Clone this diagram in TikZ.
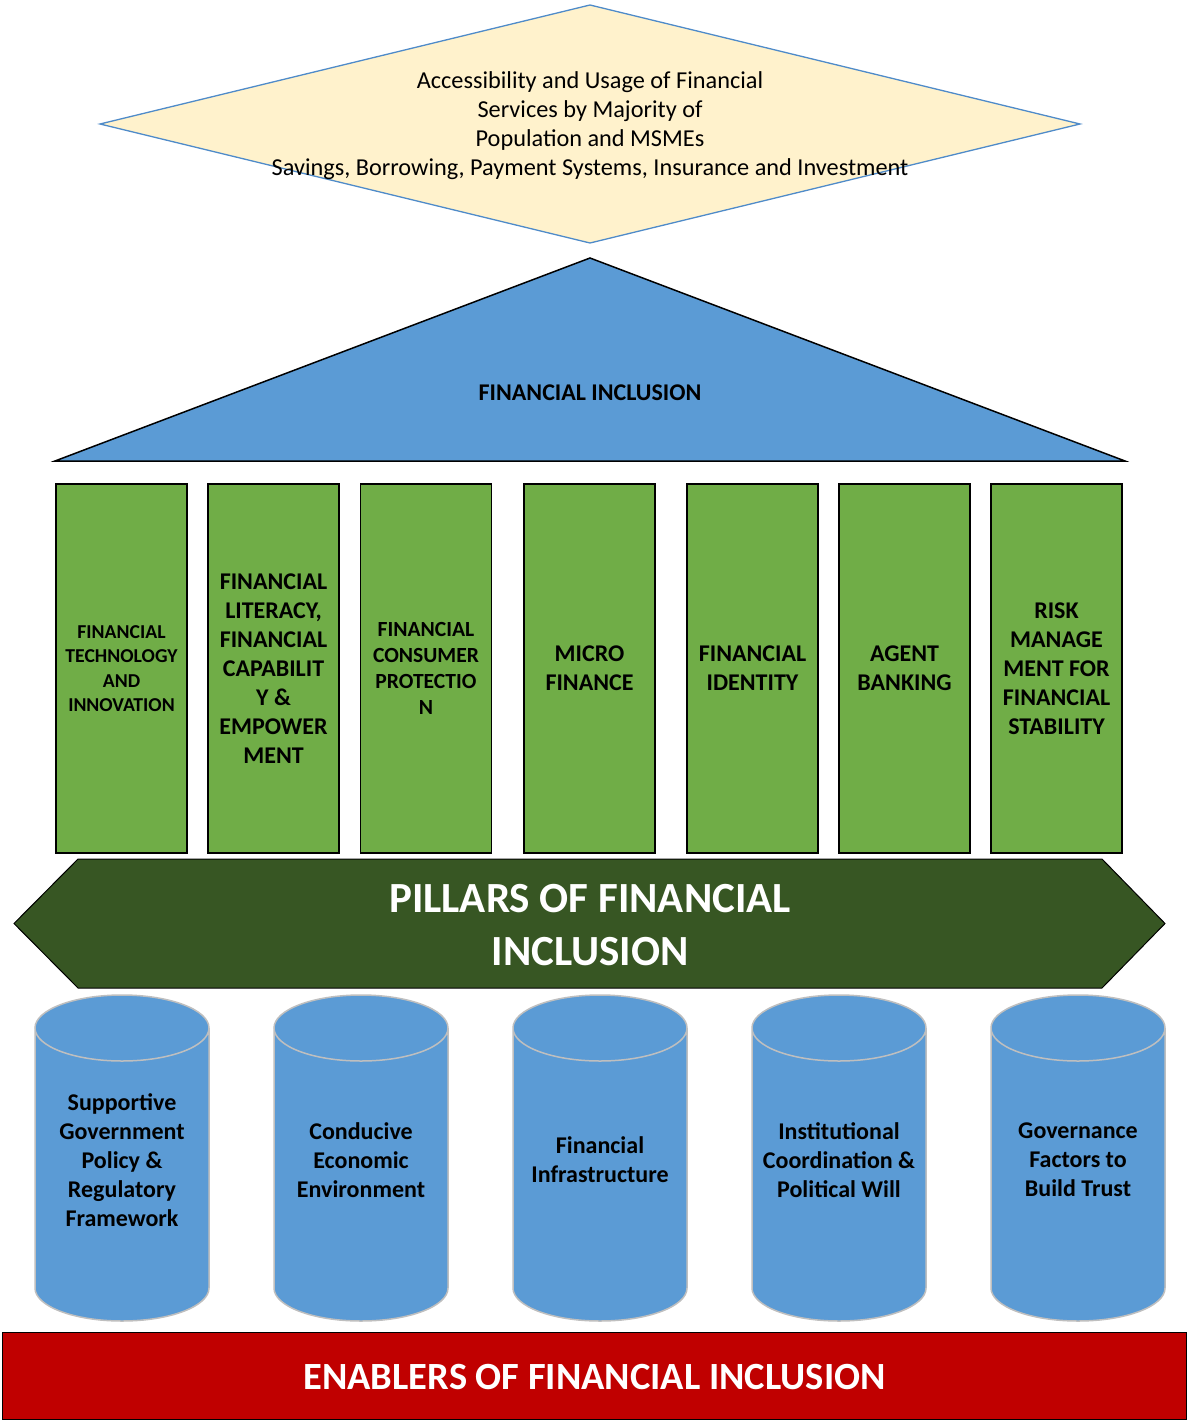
\documentclass[tikz,border=0pt]{standalone}
\usepackage{fontspec}
\setmainfont{Carlito}
\definecolor{goalfill}{HTML}{FFF2CC}
\definecolor{goalline}{HTML}{4F8BC9}
\definecolor{roofblue}{HTML}{5B9BD5}
\definecolor{pillargreen}{HTML}{70AD47}
\definecolor{bandgreen}{HTML}{375623}
\definecolor{baseline}{HTML}{BFBFBF}
\definecolor{basered}{HTML}{C00000}
\begin{document}
\begin{tikzpicture}[x=1pt,y=1pt,
    pillar/.style={draw,line width=1.5pt,fill=pillargreen,minimum width=131,minimum height=369,inner sep=0pt,align=center,font=\bfseries\fontsize{24}{29}\selectfont},
    enabler/.style={draw=baseline,line width=1.5pt,fill=roofblue},
    enablertext/.style={align=center,font=\bfseries\fontsize{24}{29}\selectfont}]
    \useasboundingbox (0,0) rectangle (1187,-1420);

    % goal
    \draw[goalline,line width=1.3pt,fill=goalfill] (590,-5) -- (1080,-124) -- (590,-243) -- (100,-124) -- cycle;
    \node[align=center,font=\fontsize{24.3}{29}\selectfont] (goal) at (590,-126)
        {Accessibility and Usage of Financial\\Services by Majority of\\Population and MSMEs\\Savings, Borrowing, Payment Systems, Insurance and Investment};

    % roof
    \draw[line width=1.5pt,fill=roofblue] (590,-258) -- (1125,-461) -- (55,-461) -- cycle;
    \node[font=\bfseries\fontsize{24}{29}\selectfont] (roof) at (590,-393) {FINANCIAL INCLUSION};

    % pillars
    \draw
    (121.5,-668.5) node[pillar,font=\bfseries\fontsize{19.7}{24.5}\selectfont] (fintech) {FINANCIAL\\TECHNOLOGY\\AND\\INNOVATION}
    (273.5,-668.5) node[pillar] (literacy) {FINANCIAL\\LITERACY,\\FINANCIAL\\CAPABILIT\\Y \&\\EMPOWER\\MENT}
    (426,-668.5) node[pillar,font=\bfseries\fontsize{21.6}{26}\selectfont] (consumer) {FINANCIAL\\CONSUMER\\PROTECTIO\\N}
    (589.5,-668.5) node[pillar] (micro) {MICRO\\FINANCE}
    (752.5,-668.5) node[pillar] (identity) {FINANCIAL\\IDENTITY}
    (904.5,-668.5) node[pillar] (agent) {AGENT\\BANKING}
    (1056.5,-668.5) node[pillar] (risk) {RISK\\MANAGE\\MENT FOR\\FINANCIAL\\STABILITY}
    ;

    % band
    \draw[baseline,line width=1pt,fill=bandgreen] (14,-923.5) -- (78,-859) -- (1102,-859) -- (1165,-923.5) -- (1102,-988) -- (78,-988) -- cycle;
    \node[align=center,text=white,font=\bfseries\fontsize{43}{53}\selectfont] (pillars) at (590,-925) {PILLARS OF FINANCIAL\\INCLUSION};

    % enablers
    \draw[enabler] (35,-1028) -- (35,-1288) arc[start angle=180,end angle=360,x radius=87,y radius=33] -- (209,-1028) arc[start angle=0,end angle=180,x radius=87,y radius=33] -- cycle (122,-1028) ellipse[x radius=87,y radius=33];
    \draw[enabler] (274,-1028) -- (274,-1288) arc[start angle=180,end angle=360,x radius=87,y radius=33] -- (448,-1028) arc[start angle=0,end angle=180,x radius=87,y radius=33] -- cycle (361,-1028) ellipse[x radius=87,y radius=33];
    \draw[enabler] (513,-1028) -- (513,-1288) arc[start angle=180,end angle=360,x radius=87,y radius=33] -- (687,-1028) arc[start angle=0,end angle=180,x radius=87,y radius=33] -- cycle (600,-1028) ellipse[x radius=87,y radius=33];
    \draw[enabler] (752,-1028) -- (752,-1288) arc[start angle=180,end angle=360,x radius=87,y radius=33] -- (926,-1028) arc[start angle=0,end angle=180,x radius=87,y radius=33] -- cycle (839,-1028) ellipse[x radius=87,y radius=33];
    \draw[enabler] (991,-1028) -- (991,-1288) arc[start angle=180,end angle=360,x radius=87,y radius=33] -- (1165,-1028) arc[start angle=0,end angle=180,x radius=87,y radius=33] -- cycle (1078,-1028) ellipse[x radius=87,y radius=33];
    \node[enablertext] (policy) at (122,-1160) {Supportive\\Government\\Policy \&\\Regulatory\\Framework};
    \node[enablertext] (economy) at (361,-1160) {Conducive\\Economic\\Environment};
    \node[enablertext] (infra) at (600,-1160) {Financial\\Infrastructure};
    \node[enablertext] (institution) at (839,-1160) {Institutional\\Coordination \&\\Political Will};
    \node[enablertext] (trust) at (1078,-1160) {Governance\\Factors to\\Build Trust};

    % base
    \draw[baseline,line width=1pt,fill=basered] (2,-1332) rectangle (1186,-1419);
    \node[text=white,font=\bfseries\fontsize{38.5}{46}\selectfont] (enablers) at (594.5,-1377) {ENABLERS OF FINANCIAL INCLUSION};
\end{tikzpicture}
\end{document}
